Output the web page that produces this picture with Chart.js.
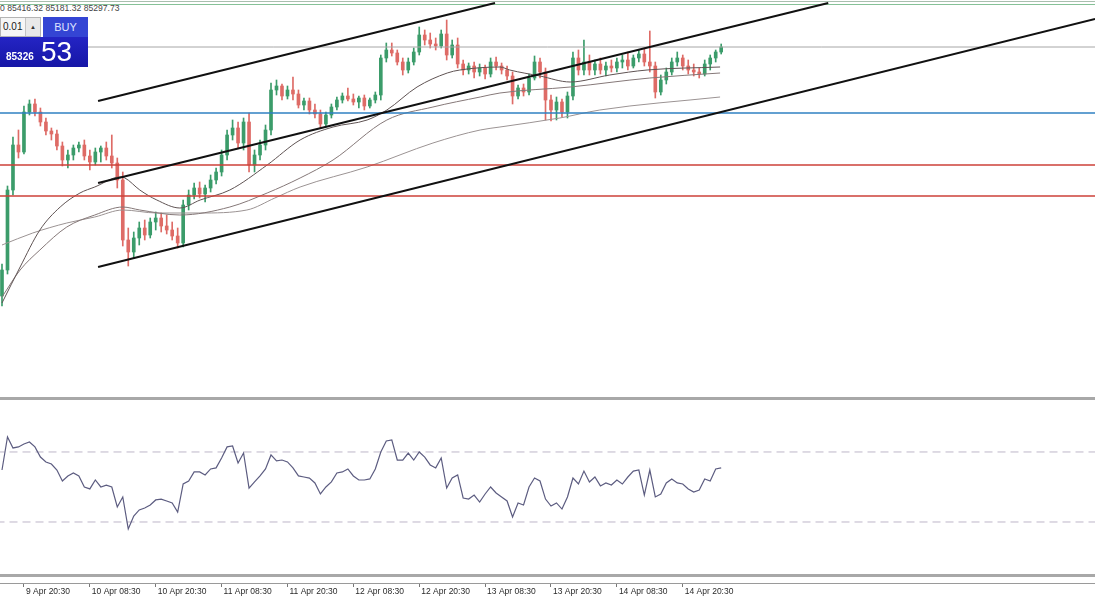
<!DOCTYPE html>
<html lang="en">
<head>
<meta charset="UTF-8">
<title>BTCUSD H1 channel</title>
<style>
  body {
    margin: 0;
    width: 1095px;
    height: 600px;
    overflow: hidden;
    background: #ffffff;
    position: relative;
    font-family: 'Liberation Sans', Arial, sans-serif;
  }
  canvas { position: absolute; left: 0; }
  #main { top: 0; }
  #rsi { top: 400px; }
  .rule { position: absolute; left: 0; width: 1095px; }
  #ohlc {
    position: absolute; left: 0; top: 3px;
    font-size: 8.6px; color: #444; white-space: nowrap;
  }
  #trade { position: absolute; left: 0; top: 16px; width: 88px; height: 51px; z-index: 2; }
  #trade .lot {
    position: absolute; left: 0; top: 1px; width: 39px; height: 18px;
    background: #f6f6f6; border: 1px solid #b4b4b4;
    font-size: 10px; line-height: 18px; color: #222; text-indent: 2px;
  }
  #trade .spin {
    position: absolute; right: 0; top: 0; width: 14px; height: 18px;
    background: #e9e9e9; border-left: 1px solid #c4c4c4;
    font-size: 6px; line-height: 18px; text-align: center; text-indent: 0; color: #333;
  }
  #trade .buy {
    position: absolute; left: 43px; top: 1px; width: 45px; height: 20px;
    background: #3445d4; color: #dfe3ff;
    font-size: 11px; line-height: 20px; text-align: center;
  }
  #trade .quote {
    position: absolute; left: 0; top: 21px; width: 88px; height: 30px;
    background: linear-gradient(#2424c4, #1616a6); color: #ffffff;
  }
  #trade .small { position: absolute; left: 6px; top: 14px; font-size: 10px; font-weight: bold; }
  #trade .big {
    position: absolute; left: 41px; top: -1px; font-size: 28px;
    font-family: 'Liberation Sans Narrow', 'Liberation Sans', Arial, sans-serif;
  }
</style>
</head>
<body>
  <div class="rule" style="top:1px;height:1px;background:#a9bfae;"></div>
  <div class="rule" style="top:4px;height:1px;background:#86c197;"></div>
  <div id="ohlc">0 85416.32 85181.32 85297.73</div>
  <div id="trade">
    <div class="lot">0.01<div class="spin">▲</div></div>
    <div class="buy">BUY</div>
    <div class="quote"><span class="small">85326</span><span class="big">53</span></div>
  </div>

  <canvas id="main" width="1095" height="398"></canvas>
  <canvas id="rsi" width="1095" height="200"></canvas>

  <div class="rule" style="top:397px;height:3px;background:#a8a8a8;z-index:3;"></div>
  <div class="rule" style="top:574px;height:3px;background:#a8a8a8;z-index:3;"></div>

  <script src="https://cdn.jsdelivr.net/npm/chart.js@4.4.1/dist/chart.umd.min.js"></script>
  <script>
    // hourly candles, index 0 = 9 Apr 16:30
    const open = [
      77870, 78650, 81050, 82400, 82190, 83390, 83630, 83390, 83090, 82820,
      82730, 82370, 81950, 82100, 82310, 82400, 82070, 81890, 82190, 82310,
      82070, 81860, 81350, 79550, 79190, 79610, 79910, 79700, 80090, 80210,
      79970, 79850, 79670, 79460, 80600, 80900, 81110, 80930, 81110, 81350,
      81590, 82100, 82700, 82910, 82460, 83090, 81800, 82100, 82400, 82850,
      84050, 84170, 83870, 84050, 83930, 83600, 83720, 83450, 83330, 83030,
      83300, 83540, 83750, 83870, 83780, 83690, 83810, 83570, 83750, 83900,
      85010, 85250, 85160, 84890, 84650, 84890, 85190, 85700, 85550, 85430,
      85370, 85730, 85100, 85400, 84830, 84650, 84770, 84590, 84710, 84530,
      84890, 84770, 84650, 84470, 83870, 84110, 83990, 84410, 84890, 84590,
      83750, 83450, 83690, 83390, 83870, 85010, 84650, 84890, 84650, 84830,
      84650, 84770, 84710, 84890, 84950, 84770, 85010, 85130, 84890, 84770,
      83990, 84350, 84590, 84890, 85010, 84770, 84650, 84590, 84530, 84830,
      85010, 85190
    ];
    const high = [
      78830, 81170, 82640, 82850, 83570, 83750, 83780, 83510, 83210, 82910,
      82850, 82490, 82250, 82400, 82490, 82550, 82250, 82310, 82370, 82490,
      82700, 82010, 81590, 79910, 79790, 80090, 80150, 80210, 80390, 80360,
      80300, 80090, 79910, 80750, 81050, 81260, 81290, 81200, 81500, 81710,
      82250, 82850, 83150, 83090, 83210, 83360, 82250, 82550, 83000, 84260,
      84350, 84230, 84170, 84440, 84050, 83810, 83810, 83630, 83450, 83390,
      83630, 83840, 83960, 84110, 83930, 83870, 83900, 83810, 83990, 85100,
      85460, 85460, 85250, 85010, 85010, 85310, 85940, 85850, 85760, 85610,
      85850, 86150, 85550, 85610, 84950, 84860, 84890, 84830, 84800, 85010,
      85040, 84860, 84770, 84590, 84200, 84230, 84530, 85070, 85010, 84710,
      83900, 83840, 83780, 83990, 85190, 85250, 85550, 85100, 84950, 85010,
      84890, 84950, 85010, 85100, 85190, 85100, 85250, 85310, 85820, 84890,
      84500, 84710, 85010, 85190, 85100, 84950, 84830, 84710, 84950, 85100,
      85250, 85430
    ];
    const low = [
      77570, 78530, 80900, 82010, 82130, 83300, 83270, 82970, 82700, 82550,
      82250, 81770, 81710, 81950, 82190, 81950, 81650, 81800, 81890, 81950,
      81710, 81110, 79370, 78770, 79010, 79400, 79550, 79610, 79850, 79790,
      79730, 79550, 79310, 79340, 80450, 80780, 80810, 80690, 80990, 81230,
      81470, 81950, 82550, 82310, 82250, 81590, 81590, 81950, 82250, 82700,
      83900, 83750, 83780, 83750, 83510, 83450, 83330, 83210, 82910, 82940,
      83210, 83450, 83660, 83720, 83600, 83510, 83450, 83510, 83660, 83750,
      84890, 85070, 84800, 84500, 84560, 84800, 85100, 85400, 85310, 85250,
      85310, 84950, 85010, 84710, 84500, 84530, 84410, 84470, 84380, 84440,
      84650, 84530, 84350, 83630, 83780, 83870, 83900, 84350, 84410, 83150,
      83120, 83150, 83240, 83210, 83750, 84500, 84500, 84500, 84500, 84530,
      84470, 84590, 84590, 84710, 84650, 84710, 84890, 84770, 84590, 83810,
      83900, 84230, 84500, 84770, 84650, 84530, 84470, 84410, 84470, 84650,
      84890, 85130
    ];
    const close = [
      78650, 81050, 82400, 82190, 83390, 83630, 83390, 83090, 82820, 82730,
      82370, 81950, 82100, 82310, 82400, 82070, 81890, 82190, 82310, 82070,
      81860, 81350, 79550, 79190, 79610, 79910, 79700, 80090, 80210, 79970,
      79850, 79670, 79460, 80600, 80900, 81110, 80930, 81110, 81350, 81590,
      82100, 82700, 82910, 82460, 83090, 81800, 82100, 82400, 82850, 84050,
      84170, 83870, 84050, 83930, 83600, 83720, 83450, 83330, 83030, 83300,
      83540, 83750, 83870, 83780, 83690, 83810, 83570, 83750, 83900, 85010,
      85250, 85160, 84890, 84650, 84890, 85190, 85700, 85550, 85430, 85370,
      85730, 85100, 85400, 84830, 84650, 84770, 84590, 84710, 84530, 84890,
      84770, 84650, 84470, 83870, 84110, 83990, 84410, 84890, 84590, 83750,
      83450, 83690, 83390, 83870, 85010, 84650, 84890, 84650, 84830, 84650,
      84770, 84710, 84890, 84950, 84770, 85010, 85130, 84890, 84770, 83990,
      84350, 84590, 84890, 85010, 84770, 84650, 84590, 84530, 84830, 85010,
      85190, 85340
    ];

    // moving averages: [candle index, price]
    const maFast = [[0,77660],[3.3,78740],[6.9,79850],[10.6,80540],[14.2,80960],[16.9,81140],[21.5,81440],
      [22.4,81410],[25.1,81050],[28.2,80750],[32.4,80510],[36.1,80750],[41.5,81050],[48.3,81800],
      [54.3,82550],[60.3,82940],[66.5,83150],[70.1,83450],[75.6,84140],[81.1,84560],[83.4,84650],
      [90.7,84740],[92.5,84650],[98,84470],[103.5,84290],[110.7,84500],[117.5,84650],[130.8,84740]];
    const maMid = [[0,77840],[3.3,78650],[6.9,79250],[11.8,79940],[16.9,80300],[22,80540],[25.1,80450],
      [32.4,80300],[41.5,80540],[48.3,80960],[54.3,81410],[60.3,81950],[70.1,83150],[78.5,83540],
      [87.1,83840],[90.7,83960],[103.5,84140],[118,84410],[130.8,84560]];
    const maSlow = [[0,79400],[5.6,79760],[11.8,80060],[16.9,80240],[22,80450],[28.2,80360],[36.1,80360],
      [44.6,80450],[49.7,80810],[54.3,81140],[66.5,81740],[78.5,82460],[87.1,82850],[90.7,82940],
      [101.6,83210],[108.9,83450],[130.8,83840]];

    // trend channel and horizontal levels
    const channelUpper = [[17.5,83720],[89.8,86660]];
    const channelMid = [[17.5,81260],[150.5,86660]];
    const channelLower = [[17.5,78740],[199.1,86180]];
    const levelPrice = 85340;
    const levelBlue = 83360;
    const levelRed = [81800, 80870];

    // RSI per candle and its bands
    const rsi = [
      59.7, 78.6, 72.3, 72.9, 74.6, 75.7, 72.9, 67.1, 64.3, 63.1,
      59.7, 53.4, 56.3, 58.0, 56.3, 50.0, 48.9, 54.0, 50.0, 51.1,
      50.0, 38.6, 44.3, 26.0, 33.4, 36.9, 38.0, 39.7, 42.6, 43.1,
      42.0, 40.9, 35.7, 51.7, 53.4, 58.6, 58.6, 56.9, 60.3, 60.9,
      66.6, 72.9, 73.4, 63.7, 69.4, 49.4, 52.9, 56.3, 60.3, 68.3,
      64.9, 65.4, 64.3, 60.9, 56.3, 55.7, 55.1, 52.3, 46.0, 50.0,
      52.9, 58.0, 58.6, 60.3, 56.3, 54.0, 54.0, 54.6, 60.3, 70.0,
      76.3, 76.9, 65.4, 65.4, 69.4, 65.4, 70.0, 67.1, 62.6, 60.9,
      66.6, 49.4, 55.1, 56.9, 43.7, 43.1, 45.4, 41.4, 46.0, 50.0,
      46.6, 44.3, 42.0, 32.9, 40.9, 39.7, 50.0, 55.1, 53.4, 43.1,
      39.1, 40.9, 37.4, 44.3, 55.1, 51.7, 59.1, 52.9, 55.7, 50.6,
      52.3, 51.1, 54.0, 51.7, 55.7, 59.1, 59.7, 45.4, 59.7, 44.3,
      46.0, 52.3, 54.6, 52.3, 51.7, 48.9, 47.1, 48.3, 54.6, 53.4,
      60.3, 60.9
    ];
    const rsiLevels = [70, 30];

    const tickPos = [4, 16, 28, 40, 52, 64, 76, 88, 100, 112, 124];
    const tickLabels = ['9 Apr 20:30', '10 Apr 08:30', '10 Apr 20:30', '11 Apr 08:30', '11 Apr 20:30',
      '12 Apr 08:30', '12 Apr 20:30', '13 Apr 08:30', '13 Apr 20:30', '14 Apr 08:30', '14 Apr 20:30'];

    const xMin = -0.364, xMax = 199.09;
    const idx = open.map((_, i) => i);
    const candleColors = idx.map(i => close[i] >= open[i] ? '#3b9c6a' : '#de6b66');

    const pts = arr => arr.map(p => ({ x: p[0], y: p[1] }));
    const hline = v => [{ x: -1, y: v }, { x: 200, y: v }];
    const line = (data, color, width, order, extra) => Object.assign({
      type: 'line', data: data, borderColor: color, borderWidth: width,
      pointRadius: 0, fill: false, tension: 0, order: order
    }, extra || {});

    new Chart(document.getElementById('main'), {
      type: 'bar',
      data: {
        datasets: [
          line(pts(channelUpper), '#111111', 2, 0),
          line(pts(channelMid), '#111111', 2, 0),
          line(pts(channelLower), '#111111', 2, 0),
          line(hline(levelPrice), '#a6a6a6', 1, 1),
          line(hline(levelBlue), '#2f80c2', 1.5, 1),
          ...levelRed.map(v => line(hline(v), '#cc4038', 1.5, 1)),
          line(pts(maFast), '#5f5353', 1, 2, { cubicInterpolationMode: 'monotone' }),
          line(pts(maMid), '#857878', 1, 2, { cubicInterpolationMode: 'monotone' }),
          line(pts(maSlow), '#9b9393', 1, 2, { cubicInterpolationMode: 'monotone' }),
          {
            type: 'bar', order: 3, grouped: false, barThickness: 3, minBarLength: 1,
            data: idx.map(i => ({ x: i, y: [open[i], close[i]] })),
            backgroundColor: candleColors
          },
          {
            type: 'bar', order: 4, grouped: false, barThickness: 1,
            data: idx.map(i => ({ x: i, y: [low[i], high[i]] })),
            backgroundColor: candleColors
          }
        ]
      },
      options: {
        responsive: false,
        animation: false,
        events: [],
        layout: { padding: 0 },
        plugins: { legend: { display: false }, tooltip: { enabled: false } },
        scales: {
          x: { type: 'linear', min: xMin, max: xMax, offset: false, display: false },
          y: { min: 74810, max: 86750, display: false }
        }
      }
    });

    new Chart(document.getElementById('rsi'), {
      type: 'line',
      data: {
        datasets: [
          { data: idx.map(i => ({ x: i, y: rsi[i] })), borderColor: '#5c5c80', borderWidth: 1.2, pointRadius: 0, tension: 0 },
          ...rsiLevels.map(v => ({ data: hline(v), borderColor: '#bdb6c8', borderWidth: 1, borderDash: [8, 5], pointRadius: 0 }))
        ]
      },
      options: {
        responsive: false,
        animation: false,
        events: [],
        layout: { padding: 0 },
        plugins: { legend: { display: false }, tooltip: { enabled: false } },
        scales: {
          x: {
            type: 'linear', min: xMin, max: xMax, offset: false,
            afterBuildTicks: axis => { axis.ticks = tickPos.map(v => ({ value: v })); },
            afterFit: axis => { axis.height = 17; },
            grid: { drawOnChartArea: false, tickLength: 4, color: '#777' },
            border: { color: '#9a9a9a' },
            ticks: {
              autoSkip: false, maxRotation: 0, align: 'start', labelOffset: 2, padding: 0,
              color: '#2a2a2a', font: { family: 'Liberation Sans', size: 8.5 },
              callback: v => tickLabels[tickPos.indexOf(v)]
            }
          },
          y: { min: -4.86, max: 99.7, display: false }
        }
      }
    });
  </script>
</body>
</html>
